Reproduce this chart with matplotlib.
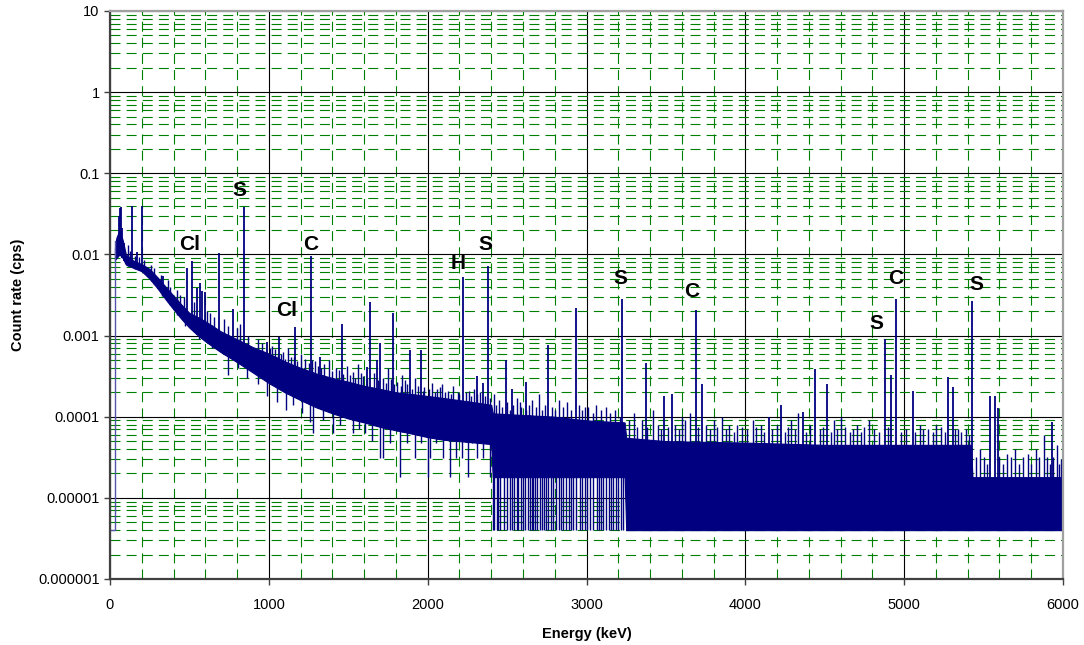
import numpy as np
import matplotlib.pyplot as plt
from matplotlib.ticker import MultipleLocator, LogLocator, NullFormatter, FixedLocator

plt.rcParams['font.family'] = ['Liberation Sans', 'DejaVu Sans']

# dense part of the spectrum trace: energy (keV), lower / upper edge (cps)
band_e = [31, 40, 60, 80, 100, 150, 200, 250, 300, 350, 400, 450, 500, 550, 600,
          700, 800, 900, 1000, 1100, 1200, 1300, 1400, 1500, 1600, 1700, 1800,
          1900, 2000, 2100, 2200, 2300, 2400, 2410, 2600, 2800, 3000, 3240, 3250,
          3500, 4000, 4500, 5000, 5420, 5430, 5700, 6000]
band_lo = [0.0085, 0.009, 0.010, 0.009, 0.0075, 0.0068, 0.0062, 0.0050, 0.0038,
           0.0028, 0.0021, 0.0016, 0.00125, 0.00102, 0.00085, 0.00062, 0.00047,
           0.00035, 0.00026, 0.0002, 0.00016, 0.00013, 0.00011, 0.000095,
           0.000085, 0.000075, 0.000068, 0.000062, 0.000056, 0.000052, 0.00005,
           0.000048, 0.000046, 1.8e-5, 1.8e-5, 1.8e-5, 1.8e-5, 1.8e-5, 4e-6,
           4e-6, 4e-6, 4e-6, 4e-6, 4e-6, 4e-6, 4e-6, 4e-6]
band_hi = [0.012, 0.016, 0.020, 0.015, 0.0100, 0.0083, 0.0076, 0.0066, 0.0052,
           0.0040, 0.0031, 0.0024, 0.0019, 0.0017, 0.0015, 0.00112, 0.0009,
           0.00072, 0.0006, 0.00048, 0.0004, 0.00034, 0.0003, 0.00027,
           0.00024, 0.00022, 0.0002, 0.00019, 0.00018, 0.00017, 0.00016,
           0.00015, 0.00014, 1.1e-4, 1.05e-4, 1e-4, 9e-5, 8.5e-5, 5.5e-5,
           5e-5, 4.8e-5, 4.5e-5, 4.5e-5, 4.5e-5, 1.8e-5, 1.8e-5, 1.8e-5]

# lead-in of the trace below the first channels
lead_e = [0, 31, 31]
lead_cps = [4e-6, 4e-6, 0.0146]

# gamma lines (energy keV, peak count rate cps)
peak_e = [55, 62, 70, 78, 90, 141, 168, 177, 200, 240, 303, 332, 483, 514, 550,
          565, 580, 595, 686, 777, 844, 986, 1066, 1167, 1263, 1322, 1461, 1616,
          1637, 1679, 1700, 1782, 1889, 1956, 2225, 2313, 2351, 2382, 2494, 2533,
          2617, 2756, 2934, 3224, 3373, 3488, 3536, 3687, 3730, 4147, 4225, 4361,
          4439, 4517, 4877, 4917, 4951, 5054, 5278, 5306, 5427, 5540, 5572, 5593,
          5929]
peak_cps = [0.030, 0.037, 0.038, 0.021, 0.014, 0.040, 0.0107, 0.0070, 0.040,
            0.0055, 0.0050, 0.0054, 0.0069, 0.0082, 0.0039, 0.0045, 0.0035,
            0.0034, 0.0105, 0.0021, 0.038, 0.00083, 0.00096, 0.00127, 0.0096,
            0.00055, 0.00137, 0.00041, 0.0026, 0.0005, 0.0008, 0.0019, 0.00066,
            0.00066, 0.0053, 0.00032, 0.00026, 0.0071, 0.0005, 0.00022, 0.00027,
            0.00076, 0.0022, 0.00285, 0.00046, 0.00018, 0.00019, 0.00206,
            0.00025, 0.0001, 0.00014, 0.000115, 0.00039, 0.00025, 0.0009,
            0.00033, 0.0028, 0.00021, 0.00031, 0.000235, 0.0027, 0.00018,
            0.00018, 0.000127, 0.000087]

# smaller noise excursions above the trace
noise_e = [115, 125, 160, 185, 215, 260, 280, 320, 365, 380, 420, 440, 465, 530,
           610, 630, 655, 720, 745, 800, 820, 870, 930, 960, 1010, 1020, 1040,
           1060, 1075, 1090, 1100, 1120, 1140, 1160, 1180, 1200, 1230, 1250, 1270,
           1290, 1310, 1330, 1350, 1380, 1400, 1420, 1440, 1470, 1490, 1510, 1530,
           1545, 1560, 1580, 1590, 1620, 1660, 1690, 1720, 1740, 1750, 1770, 1790,
           1810, 1830, 1840, 1860, 1870, 1900, 1920, 1940, 1970, 1980, 2010, 2030,
           2045, 2060, 2075, 2090, 2110, 2130, 2145, 2160, 2190, 2200, 2240, 2260,
           2270, 2290, 2310, 2330, 2360, 2395, 2420, 2430, 2450, 2470, 2500, 2520,
           2540, 2560, 2580, 2590, 2620, 2640, 2660, 2680, 2700, 2720, 2740, 2780,
           2800, 2830, 2850, 2880, 2900, 2950, 2970, 2990, 3010, 3040, 3060, 3090,
           3120, 3150, 3180, 3210, 3270, 3300, 3320, 3350, 3380, 3420, 3450, 3470,
           3510, 3560, 3580, 3600, 3620, 3650, 3700, 3750, 3780, 3800, 3820, 3850,
           3880, 3900, 3930, 3950, 3980, 4010, 4050, 4070, 4100, 4120, 4170, 4200,
           4250, 4270, 4290, 4310, 4330, 4380, 4410, 4470, 4490, 4540, 4560, 4580,
           4600, 4630, 4660, 4680, 4700, 4730, 4750, 4780, 4810, 4840, 4900, 4980,
           5010, 5070, 5100, 5120, 5150, 5180, 5200, 5230, 5260, 5320, 5340, 5360,
           5390, 5410, 5450, 5480, 5500, 5520, 5600, 5620, 5650, 5670, 5700, 5720,
           5750, 5780, 5800, 5830, 5850, 5880, 5900, 5920, 5940, 5960, 5975, 5990]
noise_cps = [0.013, 0.011, 0.0095, 0.0092, 0.0085, 0.0075, 0.0068, 0.0055, 0.0048,
             0.0040, 0.0036, 0.0032, 0.0030, 0.0026, 0.0020, 0.0019, 0.0017,
             0.0016, 0.0013, 0.00125, 0.0014, 0.0010, 0.0009, 0.0008, 0.0007,
             0.00075, 0.00068, 0.00058, 0.0006, 0.00062, 0.00052, 0.0007, 0.00055,
             0.00055, 0.00048, 0.0006, 0.00052, 0.00046, 0.0005, 0.00048, 0.00042,
             0.0004, 0.00045, 0.0005, 0.00037, 0.0004, 0.00038, 0.00034, 0.00042,
             0.00033, 0.00036, 0.0003, 0.00045, 0.00035, 0.00032, 0.0003, 0.00035,
             0.00028, 0.0003, 0.00026, 0.0004, 0.00029, 0.00025, 0.00027, 0.00024,
             0.00033, 0.00028, 0.00025, 0.00022, 0.0003, 0.00024, 0.00021,
             0.00023, 0.00022, 0.00026, 0.0002, 0.00022, 0.00023, 0.00025, 0.0002,
             0.00021, 0.00019, 0.00024, 0.0002, 0.00019, 0.0002, 0.00021, 0.00018,
             0.00022, 0.00019, 0.0002, 0.00018, 0.00017, 0.00019, 0.00014,
             0.00016, 0.00013, 0.00015, 0.00012, 0.00014, 0.00017, 0.00015,
             0.00013, 0.00012, 0.00014, 0.00016, 0.00013, 0.00019, 0.00012,
             0.00014, 0.00013, 0.00012, 0.00016, 0.00013, 0.00015, 0.00012,
             0.00014, 0.00012, 0.00013, 0.00013, 0.00011, 0.00014, 0.00012,
             0.00013, 0.00011, 0.00012, 0.0001, 9e-5, 0.00011, 7.5e-5, 9e-5,
             7.5e-5, 0.00012, 8e-5, 7e-5, 7.5e-5, 8e-5, 7e-5, 0.0001, 9e-5, 0.00011,
             7.5e-5, 8e-5, 7e-5, 9e-5, 7.5e-5, 0.0001, 7e-5, 8e-5, 6.5e-5, 8e-5,
             7.5e-5, 7e-5, 9e-5, 7.5e-5, 8e-5, 6.5e-5, 7e-5, 8e-5, 6.5e-5, 7.5e-5,
             9e-5, 7e-5, 0.00011, 6.5e-5, 8e-5, 7e-5, 7.5e-5, 6.5e-5, 9e-5, 7e-5,
             0.0001, 7.5e-5, 6.5e-5, 7e-5, 8e-5, 6.5e-5, 7.5e-5, 9e-5, 7e-5, 6.5e-5,
             7.5e-5, 6.5e-5, 7e-5, 6.5e-5, 8e-5, 7e-5, 7e-5, 6.5e-5, 8e-5, 7.5e-5,
             6.5e-5, 7e-5, 7e-5, 6.5e-5, 7e-5, 6e-5, 3.2e-5, 4e-5, 3.2e-5, 2.6e-5,
             3.2e-5, 2.6e-5, 3.5e-5, 3.2e-5, 4e-5, 2.6e-5, 3.2e-5, 3.5e-5, 2.6e-5,
             4e-5, 3.2e-5, 6e-5, 3.2e-5, 2.6e-5, 3.2e-5, 4.5e-5, 2.6e-5, 3e-5]

# excursions below the trace
dip_e = [330, 420, 470, 560, 640, 745, 805, 860, 930, 990, 1050, 1110, 1150, 1210,
         1261, 1280, 1340, 1405, 1450, 1530, 1570, 1605, 1650, 1700, 1719, 1760,
         1826, 1870, 1920, 1960, 2002, 2015, 2050, 2097, 2141, 2180, 2216, 2254,
         2280, 2311, 2350, 2390,
         2413, 2420, 2435, 2445, 2456, 2480, 2500, 2519, 2530, 2545, 2560, 2571,
         2585, 2600, 2615, 2634, 2645, 2655, 2665, 2676, 2690, 2707, 2720, 2730,
         2745, 2760, 2775, 2790, 2810, 2830, 2840, 2854, 2870, 2890, 2905, 2917,
         2935, 2959, 2970, 2990, 3005, 3020, 3040, 3064, 3080, 3090, 3106, 3120,
         3140, 3155, 3169, 3185, 3200, 3215, 3230]
dip_cps = [0.0031, 0.0018, 0.0013, 0.0009, 0.0007, 0.00033, 0.0004, 0.0003,
           0.00025, 0.00018, 0.00015, 0.00012, 0.00014, 0.00011, 8.7e-5, 6.3e-5,
           9e-5, 6.3e-5, 8e-5, 6.3e-5, 7e-5, 6.3e-5, 5e-5, 3.1e-5, 3.1e-5, 4.7e-5,
           1.8e-5, 4.7e-5, 3.1e-5, 4.7e-5, 1.8e-5, 3.1e-5, 4.7e-5, 3.1e-5, 1.8e-5,
           3.1e-5, 3.1e-5, 1.8e-5, 4.7e-5, 3.1e-5, 3.1e-5, 1.8e-5] + [4e-6] * 55

# element labels
label_txt = ['Cl', 'S', 'C', 'Cl', 'H', 'S', 'S', 'C', 'S', 'C', 'S']
label_e = [504, 812, 1265, 1114, 2191, 2361, 3211, 3664, 4823, 4949, 5452]
label_cps = [0.0131, 0.0622, 0.0134, 0.00201, 0.00784, 0.0131, 0.00498, 0.00354,
             0.00139, 0.00498, 0.0042]

ytick_vals = [1e-6, 1e-5, 1e-4, 1e-3, 1e-2, 1e-1, 1, 10]
ytick_labels = ['0.000001', '0.00001', '0.0001', '0.001', '0.01', '0.1', '1', '10']

navy = '#000080'

fig = plt.figure(figsize=(10.84, 6.45), dpi=100)
ax = fig.add_axes([110 / 1084, 1 - 579 / 645, 953 / 1084, 568 / 645])
ax.set_yscale('log')
ax.set_xlim(0, 6000)
ax.set_ylim(1e-6, 10)

ax.xaxis.set_major_locator(MultipleLocator(1000))
ax.xaxis.set_minor_locator(MultipleLocator(200))
ax.yaxis.set_major_locator(FixedLocator(ytick_vals))
ax.set_yticklabels(ytick_labels)
ax.yaxis.set_minor_locator(LogLocator(base=10, subs=np.arange(2, 10), numticks=20))
ax.yaxis.set_minor_formatter(NullFormatter())

ax.set_axisbelow(True)
ax.grid(which='major', color='black', lw=0.8)
ax.grid(which='minor', color='#008000', lw=0.8, dashes=(9, 5.5))
ax.tick_params(which='minor', length=0)
ax.tick_params(which='major', length=4, width=1, color='#404040', labelsize=10.5)
ax.tick_params(axis='x', pad=10)

for side in ['left', 'bottom']:
    ax.spines[side].set_color('#404040')
    ax.spines[side].set_linewidth(1.6)
for side in ['top', 'right']:
    ax.spines[side].set_color('#a0a0a0')
    ax.spines[side].set_linewidth(1.6)

# trace
ax.plot(lead_e, lead_cps, color='#5555aa', lw=1)
ax.fill_between(band_e, band_lo, band_hi, color=navy, lw=0.8, edgecolor=navy)
ax.vlines(noise_e, np.interp(noise_e, band_e, band_lo), noise_cps, color=navy, lw=1)
ax.vlines(dip_e, dip_cps, np.interp(dip_e, band_e, band_hi), color=navy, lw=1)
ax.vlines(peak_e, np.interp(peak_e, band_e, band_lo), peak_cps, color=navy, lw=1.3)

for t, e, c in zip(label_txt, label_e, label_cps):
    ax.text(e, c, t, ha='center', va='center', fontsize=15, fontweight='bold')

fig.text(18 / 1084, 1 - 295 / 645, 'Count rate (cps)', rotation=90, ha='center',
         va='center', fontsize=10.5, fontweight='bold')
fig.text(587 / 1084, 1 - 634 / 645, 'Energy (keV)', ha='center', va='center',
         fontsize=10.5, fontweight='bold')

fig.savefig('out.png', dpi=100)
